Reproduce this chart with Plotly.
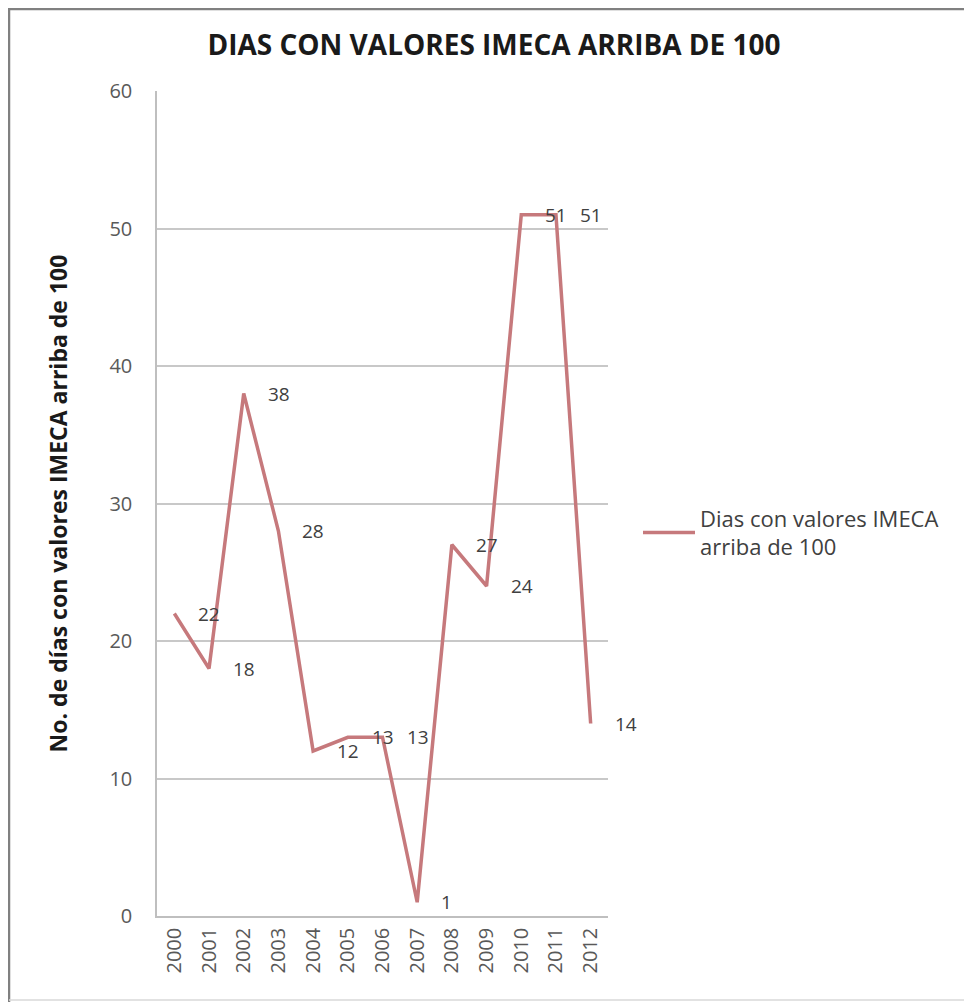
import plotly.graph_objects as go

years = ["2000", "2001", "2002", "2003", "2004", "2005", "2006",
         "2007", "2008", "2009", "2010", "2011", "2012"]
dias = [22, 18, 38, 28, 12, 13, 13, 1, 27, 24, 51, 51, 14]

W, H = 972, 1002
OFF = 8  # page body margin offset
L, R, T, B = 149, 372, 83, 94

line_color = "#C6797C"
font_fam = "'Open Sans', Lato, sans-serif"

fig = go.Figure()
fig.add_trace(go.Scatter(
    x=years, y=dias, mode="lines",
    name="Dias con valores IMECA<br>arriba de 100",
    line=dict(color=line_color, width=3.5),
    hoverinfo="skip",
))

for i, v in enumerate(dias):
    fig.add_annotation(x=i, y=v, text=str(v), showarrow=False,
                       xanchor="left", yanchor="middle", xshift=22,
                       font=dict(family=font_fam, size=19, color="#404040"))

def px2x(px):
    return (px - OFF - L) / (W - L - R)

def py2y(py):
    return (H - B - (py - OFF)) / (H - T - B)

# chart border (window pixel coords)
fig.add_shape(type="line", xref="paper", yref="paper",
              x0=px2x(9), x1=px2x(9), y0=py2y(8), y1=py2y(1010),
              line=dict(color="#808080", width=2.5))
fig.add_shape(type="line", xref="paper", yref="paper",
              x0=px2x(8), x1=px2x(980), y0=py2y(9), y1=py2y(9),
              line=dict(color="#808080", width=2.5))
fig.add_shape(type="line", xref="paper", yref="paper",
              x0=px2x(9), x1=px2x(980), y0=py2y(1000), y1=py2y(1000),
              line=dict(color="#D9D9D9", width=1.5))

fig.update_layout(
    width=W, height=H,
    margin=dict(l=L, r=R, t=T, b=B),
    paper_bgcolor="white", plot_bgcolor="white",
    title=dict(text="<b>DIAS CON VALORES IMECA ARRIBA DE 100</b>",
               x=(494 - OFF) / W, xanchor="center",
               y=1 - (45 - OFF) / H, yanchor="middle",
               font=dict(family=font_fam, size=28, color="#1A1A1A")),
    font=dict(family=font_fam, color="#595959"),
    showlegend=True,
    legend=dict(x=px2x(638), xanchor="left", y=py2y(533), yanchor="middle",
                font=dict(family=font_fam, size=22, color="#404040"),
                itemwidth=52, bgcolor="rgba(0,0,0,0)"),
    xaxis=dict(type="category", range=[-0.5, len(years) - 0.5],
               tickangle=-90, showgrid=False,
               showline=True, linecolor="#BFBFBF", linewidth=1.5,
               ticks="", tickfont=dict(family=font_fam, size=20, color="#595959"),
               ticklabelstandoff=2),
    yaxis=dict(range=[0, 60], dtick=10, showgrid=True, gridcolor="#C8C8C8",
               gridwidth=1.5, showline=True, linecolor="#BFBFBF", linewidth=1.5,
               zeroline=False, ticks="",
               tickfont=dict(family=font_fam, size=20, color="#595959"),
               ticklabelstandoff=19,
               title=dict(text="<b>No. de días con valores IMECA arriba de 100</b>",
                          font=dict(family=font_fam, size=23, color="#1A1A1A"),
                          standoff=35)),
)

fig.write_html("out.html")
